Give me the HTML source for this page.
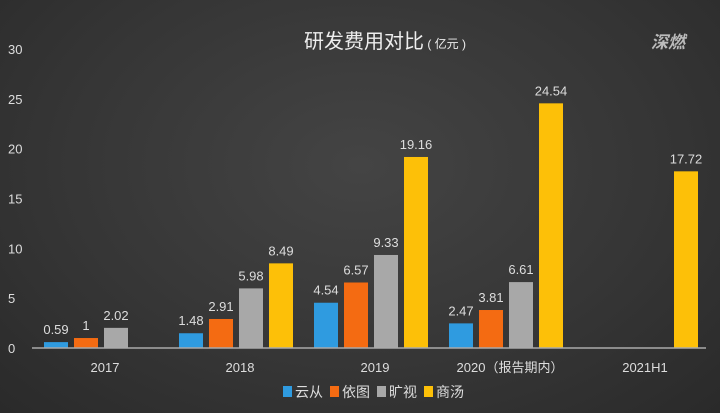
<!DOCTYPE html>
<html><head><meta charset="utf-8"><style>
body{margin:0;width:720px;height:413px;overflow:hidden;background:radial-gradient(ellipse at 50% 40%,#444 0%,#353535 60%,#2a2a2a 100%);font-family:"Liberation Sans","Noto Sans CJK SC",sans-serif;}
svg{position:absolute;left:0;top:0}
</style></head><body>
<svg width="720" height="413">
<text x="385" y="48" text-anchor="middle" fill="#eee" font-size="20" font-family="'Liberation Sans','Noto Sans CJK SC',sans-serif">研发费用对比<tspan font-size="12"> ( 亿元 )</tspan></text>
<text x="668" y="48" text-anchor="middle" fill="#bbb" font-size="17" font-weight="bold" font-style="italic" font-family="'Noto Sans CJK SC',sans-serif">深燃</text>
<g id="yaxis"></g><g id="bars"></g><g id="xaxis"></g>
<g id="legend"></g>
</svg>
<script>
const categories=["2017","2018","2019","2020（报告期内）","2021H1"];
const seriesNames=["云从","依图","旷视","商汤"];
const colors=["#2f9be0","#f46b12","#a8a8a8","#fdc008"];
const yunc=[0.59,1.48,4.54,2.47,null];
const yitu=[1,2.91,6.57,3.81,null];
const kuangshi=[2.02,5.98,9.33,6.61,null];
const shangtang=[null,8.49,19.16,24.54,17.72];
const yTicks=[0,5,10,15,20,25,30];
const series=[yunc,yitu,kuangshi,shangtang];
const NS="http://www.w3.org/2000/svg";
const y0=348,pxPer=9.97;
const y=v=>y0-v*pxPer;
const gx=i=>44+135*i;
function mk(tag,attrs,parent,txt){const e=document.createElementNS(NS,tag);for(const k in attrs)e.setAttribute(k,attrs[k]);if(txt!=null)e.textContent=txt;parent.appendChild(e);return e;}
const ya=document.getElementById('yaxis');
yTicks.forEach(t=>{const e=mk('text',{x:8,y:y(t)+5,fill:'#ddd','font-size':13},ya,t);

});
const bg=document.getElementById('bars');
series.forEach((s,si)=>{s.forEach((v,ci)=>{if(v==null)return;
const x=gx(ci)+si*30;
const r=mk('rect',{x:x,y:y(v),width:24,height:y0-y(v),fill:colors[si]},bg);


const t=mk('text',{x:x+12,y:y(v)-8,fill:'#ddd','font-size':13,'text-anchor':'middle'},bg,String(v));

});});
const xa=document.getElementById('xaxis');
const ln=mk('line',{x1:32,x2:706,y1:y0,y2:y0,stroke:'#aaa','stroke-width':1.5},xa);


categories.forEach((c,i)=>{const e=mk('text',{x:gx(i)+61,y:372,fill:'#ddd','font-size':13,'text-anchor':'middle'},xa,c);

});
const lg=document.getElementById('legend');
let lx=283;
seriesNames.forEach((n,i)=>{const r=mk('rect',{x:lx,y:386,width:9,height:11,fill:colors[i]},lg);


const t=mk('text',{x:lx+12,y:397,fill:'#ddd','font-size':14},lg,n);


lx+=47;});
</script>
</body></html>
